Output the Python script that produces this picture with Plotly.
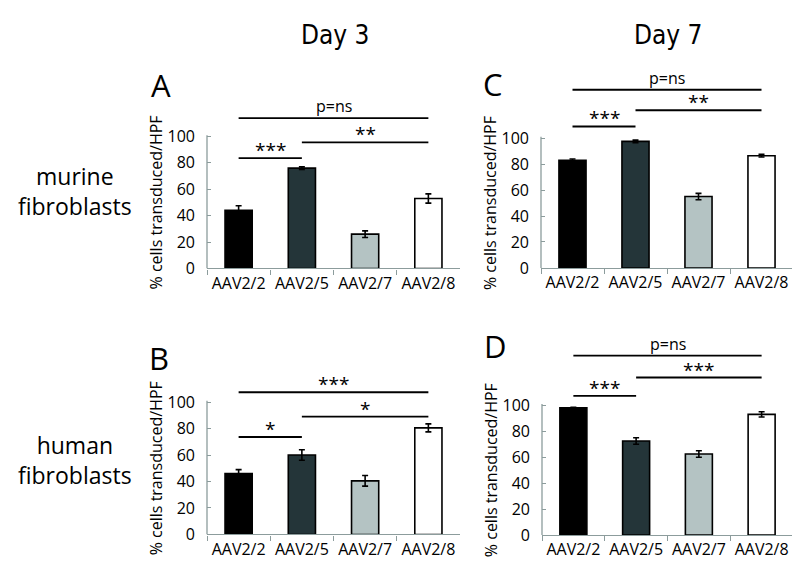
import plotly.graph_objects as go

# ---------------- data ----------------
categories = ["AAV2/2", "AAV2/5", "AAV2/7", "AAV2/8"]

murine_day3 = [44, 76, 26, 53]
murine_day3_err = [3.5, 1, 2.5, 3.5]
murine_day7 = [83, 97.5, 55, 86.5]
murine_day7_err = [1, 1, 2.5, 1]
human_day3 = [46, 60, 40.5, 80.5]
human_day3_err = [3, 4, 4, 3]
human_day7 = [98, 72.5, 62.5, 93]
human_day7_err = [0.5, 2.5, 2.5, 2]

# significance brackets: (from category index, to category index, height, label)
sig_A = [(0, 1, 83.6, "***"), (1, 3, 95.5, "**"), (0, 3, 114, "p=ns")]
sig_B = [(0, 1, 73.6, "*"), (1, 3, 89, "*"), (0, 3, 107.4, "***")]
sig_C = [(0, 1, 109, "***"), (1, 3, 121.5, "**"), (0, 3, 137.3, "p=ns")]
sig_D = [(0, 1, 107.3, "***"), (1, 3, 121.4, "***"), (0, 3, 138.3, "p=ns")]

y_tick_vals = [0, 20, 40, 60, 80, 100]
y_title = "% cells transduced/HPF"
panel_letters = ["A", "B", "C", "D"]
col_titles = ["Day 3", "Day 7"]
row_titles = ["murine<br>fibroblasts", "human<br>fibroblasts"]

bar_colors = ["#000000", "#243539", "#b4c3c3", "#ffffff"]
axis_color = "#8c9c9c"
FONT = "Open Sans, Noto Sans, sans-serif"

W, H = 800, 577

# panel geometry in pixels: x_left, x_right, y_of_0, y_of_100, y_top
panels = [
    dict(vals=murine_day3, err=murine_day3_err, sig=sig_A,
         geo=(199, 452, 265.5, 131, 92), letter=(153, 78)),
    dict(vals=human_day3, err=human_day3_err, sig=sig_B,
         geo=(199, 452, 536.7, 401.7, 372), letter=(151, 357)),
    dict(vals=murine_day7, err=murine_day7_err, sig=sig_C,
         geo=(533, 785, 265, 132.7, 62), letter=(485, 77)),
    dict(vals=human_day7, err=human_day7_err, sig=sig_D,
         geo=(534, 785, 537.3, 405, 333), letter=(487, 345)),
]

fig = go.Figure()
shapes = []
annotations = []
layout_axes = {}

for i, p in enumerate(panels):
    n = i + 1
    xa = "x" if n == 1 else f"x{n}"
    ya = "y" if n == 1 else f"y{n}"
    xl, xr, y0, y100, ytop = p["geo"]
    ymax = 100 * (y0 - ytop) / (y0 - y100)

    fig.add_trace(go.Bar(
        x=categories, y=p["vals"], xaxis=xa, yaxis=ya,
        marker=dict(color=bar_colors, line=dict(color="#000000", width=1.6)),
        error_y=dict(type="data", array=p["err"], visible=True,
                     color="#000000", thickness=1.6, width=3),
        width=0.43, showlegend=False, hoverinfo="skip",
    ))

    for (a, b, h, lab) in p["sig"]:
        fig.add_trace(go.Scatter(
            x=[categories[a], categories[b]], y=[h, h], xaxis=xa, yaxis=ya,
            mode="lines", line=dict(color="#000000", width=1.8),
            showlegend=False, hoverinfo="skip",
        ))
        is_star = lab.startswith("*")
        annotations.append(dict(
            x=(a + b) / 2, y=h, xref=xa, yref=ya, text=lab, showarrow=False,
            xanchor="center", yanchor="bottom",
            yshift=-7 if is_star else -1,
            font=dict(family=FONT, size=19 if is_star else 16, color="#000000"),
        ))

    # y axis line from 0 to 100
    shapes.append(dict(type="line", xref=f"{xa} domain", yref=ya,
                       x0=0, x1=0, y0=0, y1=101,
                       line=dict(color=axis_color, width=1.3)))

    xkey = "xaxis" if n == 1 else f"xaxis{n}"
    ykey = "yaxis" if n == 1 else f"yaxis{n}"
    layout_axes[xkey] = dict(
        domain=[xl / W, xr / W], anchor=ya, type="category",
        range=[-0.5, 3.5], showline=True, linecolor=axis_color, linewidth=1.3,
        ticks="outside", tickson="boundaries", ticklen=5, tickcolor=axis_color,
        tickwidth=1.3, showgrid=False, zeroline=False, tickangle=0,
        tickfont=dict(family=FONT, size=16, color="#000000"),
        fixedrange=True,
    )
    layout_axes[ykey] = dict(
        domain=[1 - y0 / H, 1 - ytop / H], anchor=xa,
        range=[0, ymax], tickvals=y_tick_vals, showline=False,
        ticks="inside", ticklen=4, tickcolor=axis_color, tickwidth=1.3,
        showgrid=False, zeroline=False, ticklabelstandoff=11,
        tickfont=dict(family=FONT, size=16, color="#000000"),
        fixedrange=True,
    )

    # y title
    annotations.append(dict(
        x=(xl - 51) / W, xref="paper", y=50, yref=ya, text=y_title,
        textangle=-90, showarrow=False, xanchor="center", yanchor="middle",
        font=dict(family=FONT, size=16, color="#000000"),
    ))
    # panel letter
    lx, ly = p["letter"]
    annotations.append(dict(
        x=lx / W, y=1 - ly / H, xref="paper", yref="paper", text=panel_letters[i],
        showarrow=False, xanchor="center", yanchor="middle",
        font=dict(family=FONT, size=31, color="#000000"),
    ))

# column titles
for t, cx in zip(col_titles, [327, 660]):
    annotations.append(dict(
        x=cx / W, y=1 - 28 / H, xref="paper", yref="paper", text=t,
        showarrow=False, xanchor="center", yanchor="middle",
        font=dict(family="Liberation Sans Narrow, DejaVu Sans Condensed, sans-serif",
                  size=26, color="#000000"),
    ))
# row titles
for t, cy in zip(row_titles, [187, 461]):
    annotations.append(dict(
        x=67 / W, y=1 - cy / H, xref="paper", yref="paper", text=t,
        showarrow=False, xanchor="center", yanchor="middle",
        font=dict(family=FONT, size=23, color="#000000"),
    ))

fig.update_layout(
    width=W, height=H, margin=dict(l=0, r=0, t=0, b=0),
    paper_bgcolor="white", plot_bgcolor="white",
    shapes=shapes, annotations=annotations, bargap=0.57,
    **layout_axes,
)

fig.write_html("out.html")
